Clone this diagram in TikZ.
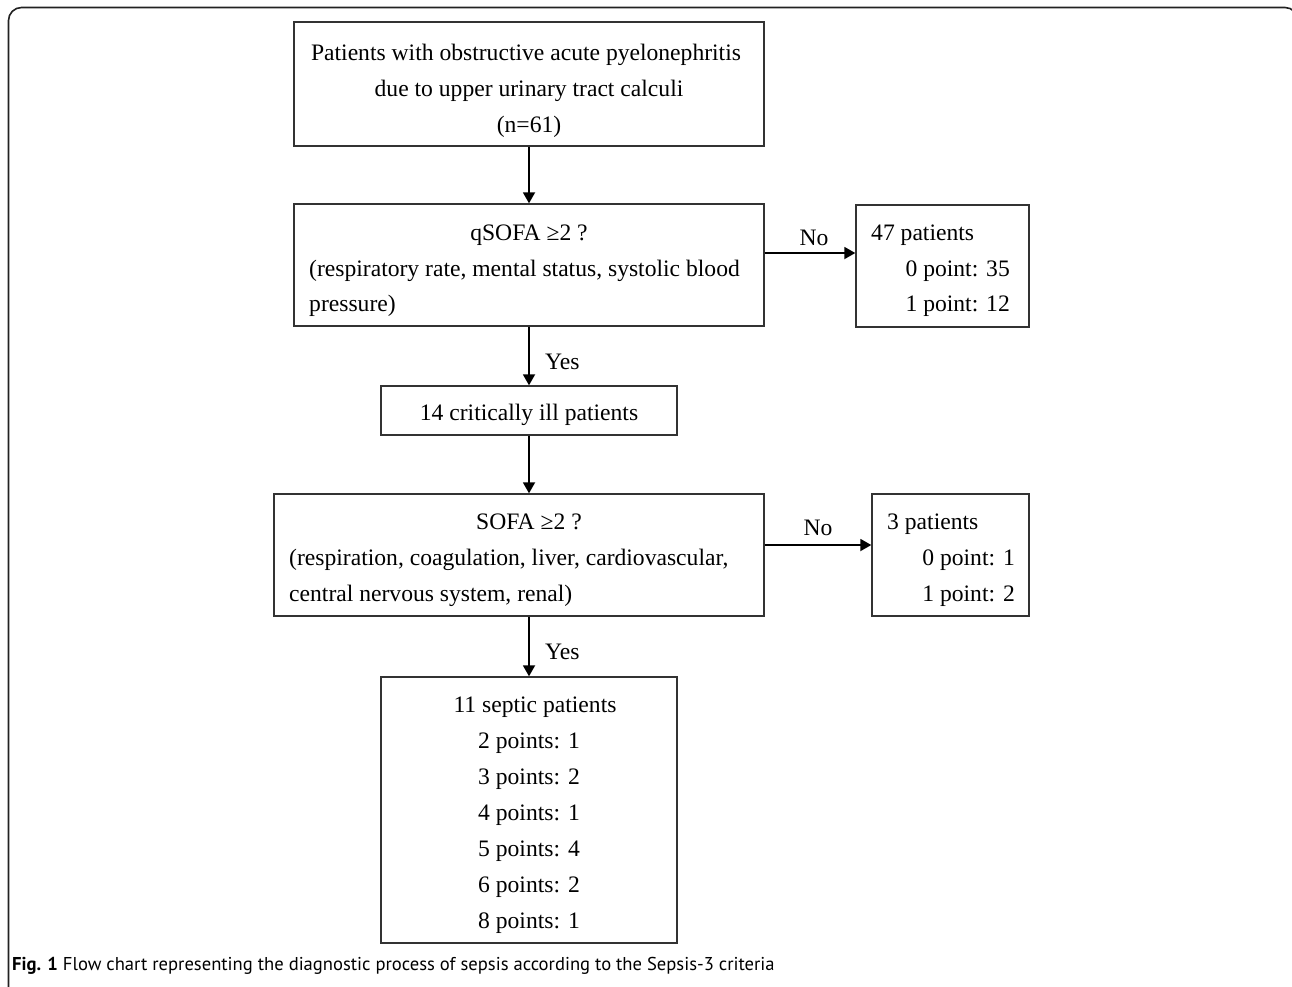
\documentclass[tikz,border=0pt]{standalone}
\usepackage{fontspec}
\setmainfont{Liberation Serif}
\newfontfamily\capfont{PT Sans}
\usetikzlibrary{arrows.meta}
\definecolor{boxline}{HTML}{333333}
\definecolor{framecol}{HTML}{222222}
\begin{document}
\begin{tikzpicture}[x=1pt,y=-1pt,
  box/.style={draw=boxline, line width=1.4pt, inner sep=0pt, fill=none},
  txt/.style={inner sep=0pt, font=\fontsize{23.6}{30}\selectfont, text=black},
  ctxt/.style={txt, anchor=base},
  ltxt/.style={txt, anchor=base west},
  rtxt/.style={txt, anchor=base east},
  arr/.style={draw=black, line width=1.8pt, -{Triangle[length=11pt,width=12pt]}}
]
\useasboundingbox (0,0) rectangle (1292,986);
\fill[white] (0,0) rectangle (1292,986);
% outer frame
\begin{scope}
\clip (0,0) rectangle (1292,986);
\draw[framecol, line width=1.6pt, rounded corners=13pt] (8.5,1010) -- (8.5,7.5) -- (1298,7.5) -- (1298,1010);
\end{scope}

% boxes
\node[box, minimum width=470pt, minimum height=124pt] (n1) at (529,84) {};
\node[box, minimum width=470pt, minimum height=122pt] (n2) at (529,265) {};
\node[box, minimum width=173pt, minimum height=122pt] (n47) at (942.5,266) {};
\node[box, minimum width=296pt, minimum height=49pt] (n3) at (529,410.5) {};
\node[box, minimum width=490pt, minimum height=122pt] (n4) at (519,555) {};
\node[box, minimum width=157pt, minimum height=122pt] (n3p) at (950.5,555) {};
\node[box, minimum width=296pt, minimum height=266pt] (n5) at (529,810) {};

% texts box 1
\node[ctxt] (t1a) at (526,60) {Patients with obstructive acute pyelonephritis};
\node[ctxt] (t1b) at (529,96) {due to upper urinary tract calculi};
\node[ctxt] (t1c) at (529,132) {(n=61)};
% box 2
\node[ctxt] (t2a) at (529,240) {qSOFA ≥2 ?};
\node[ltxt] (t2b) at (309,276) {(respiratory rate, mental status, systolic blood};
\node[ltxt] (t2c) at (309,311) {pressure)};
% box 47
\node[ltxt] (t47a) at (871,240) {47 patients};
\node[rtxt] (t47b) at (1010,276) {0 point: 35};
\node[rtxt] (t47c) at (1010,311) {1 point: 12};
% box 3
\node[ctxt] (t3) at (529,420) {14 critically ill patients};
% box 4
\node[ctxt] (t4a) at (529,529) {SOFA ≥2 ?};
\node[ltxt] (t4b) at (289,565) {(respiration, coagulation, liver, cardiovascular,};
\node[ltxt] (t4c) at (289,601) {central nervous system, renal)};
% box 3p
\node[ltxt] (t3pa) at (887,529) {3 patients};
\node[rtxt] (t3pb) at (1015,565) {0 point: 1};
\node[rtxt] (t3pc) at (1015,601) {1 point: 2};
% box 5
\node[ctxt] (t5a) at (535,712) {11 septic patients};
\node[ctxt] (t5b) at (529,748) {2 points: 1};
\node[ctxt] (t5c) at (529,784) {3 points: 2};
\node[ctxt] (t5d) at (529,820) {4 points: 1};
\node[ctxt] (t5e) at (529,856) {5 points: 4};
\node[ctxt] (t5f) at (529,892) {6 points: 2};
\node[ctxt] (t5g) at (529,928) {8 points: 1};

% connectors
\draw[arr] (n1.south) -- (n2.north);
\draw[arr] (n2.south) -- (n2.south |- n3.north);
\draw[arr] (n3.south) -- (n3.south |- n4.north);
\draw[arr] (n5.north |- n4.south) -- (n5.north);
\draw[arr] ([yshift=12pt]n2.east) -- ([yshift=12pt]n2.east -| n47.west);
\draw[arr] ([yshift=10pt]n4.east) -- ([yshift=10pt]n4.east -| n3p.west);

% connector labels
\node[ctxt] (lno1) at (814,245) {No};
\node[ctxt] (lno2) at (818,535) {No};
\node[ltxt] (lyes1) at (545,369) {Yes};
\node[ltxt] (lyes2) at (545,659) {Yes};

% caption
\node[anchor=base west, inner sep=0pt, font=\capfont\fontsize{18.6}{21}\selectfont] (cap) at (12,970)
  {\textbf{Fig. 1} Flow chart representing the diagnostic process of sepsis according to the Sepsis-3 criteria};
\end{tikzpicture}
\end{document}
